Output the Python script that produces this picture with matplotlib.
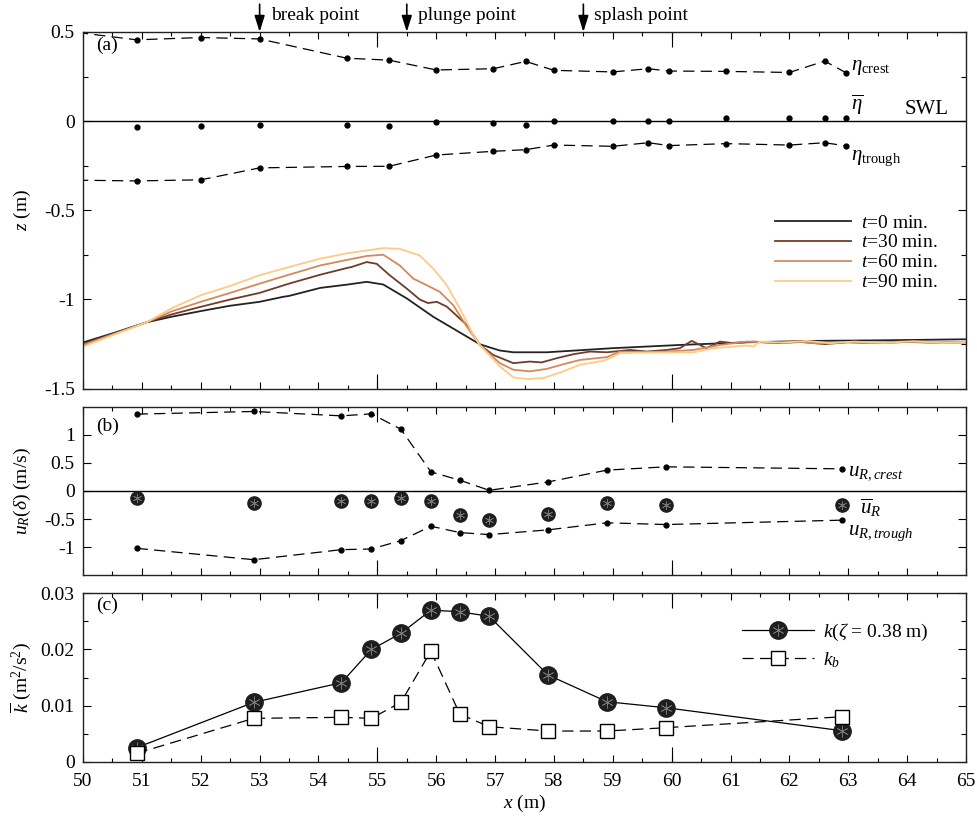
import matplotlib
matplotlib.use("Agg")
import matplotlib.pyplot as plt
from matplotlib.ticker import MultipleLocator, FormatStrFormatter, FuncFormatter
from matplotlib.legend_handler import HandlerTuple

plt.rcParams['font.family'] = ['Liberation Serif', 'DejaVu Serif']
plt.rcParams['mathtext.fontset'] = 'custom'
plt.rcParams['mathtext.rm'] = 'Liberation Serif'
plt.rcParams['mathtext.it'] = 'Liberation Serif:italic'
plt.rcParams['mathtext.bf'] = 'Liberation Serif:bold'
plt.rcParams['axes.unicode_minus'] = False
plt.rcParams['font.size'] = 14

# ---------------- (a) free-surface statistics ----------------
x_eta = [49.6, 50.91, 52.0, 53.0, 54.48, 55.2, 56.0, 56.97, 57.52, 58.0,
         59.0, 59.6, 59.96, 60.93, 62.0, 62.6, 62.97]
eta_crest = [0.51, 0.456, 0.469, 0.461, 0.353, 0.342, 0.287, 0.294, 0.335, 0.285,
             0.276, 0.294, 0.281, 0.279, 0.273, 0.337, 0.270]
eta_trough = [-0.33, -0.335, -0.329, -0.262, -0.254, -0.253, -0.190, -0.169, -0.160, -0.134,
              -0.141, -0.121, -0.137, -0.126, -0.134, -0.121, -0.139]
x_mean = [50.91, 52.0, 53.0, 54.48, 55.2, 56.0, 56.97, 57.52, 58.0,
          59.0, 59.6, 59.96, 60.93, 62.0, 62.6, 62.97]
eta_mean = [-0.030, -0.026, -0.020, -0.020, -0.026, -0.007, -0.011, -0.024, 0.002,
            0.002, 0.002, 0.002, 0.015, 0.019, 0.019, 0.019]

# bed profiles
x_t0 = [50.0, 50.5, 51.08, 51.5, 52.0, 52.5, 53.0, 53.4, 53.5, 54.03, 54.5, 54.82, 55.1,
        55.5, 55.95, 56.52, 56.74, 57.08, 57.31, 57.88, 59.0, 60.14, 61.27, 62.41, 63.54, 65.0]
z_t0 = [-1.241, -1.19, -1.128, -1.097, -1.065, -1.035, -1.013, -0.985, -0.98, -0.935, -0.916,
        -0.901, -0.916, -0.994, -1.097, -1.208, -1.251, -1.286, -1.296, -1.296, -1.273, -1.255,
        -1.240, -1.232, -1.229, -1.223]

x_t30 = [50.0, 51.08, 51.5, 52.0, 52.5, 53.0, 53.5, 54.03, 54.5, 54.56, 54.82, 54.99, 55.21,
         55.5, 55.72, 55.86, 56.01, 56.18, 56.52, 56.74, 56.97, 57.31, 57.59, 57.79, 58.05,
         58.33, 58.61, 58.9, 59.29, 59.58, 59.92, 60.14, 60.34, 60.59, 60.82, 61.05, 61.39,
         61.8, 62.2, 62.6, 63.0, 63.5, 64.0, 64.5, 65.0]
z_t30 = [-1.25, -1.128, -1.084, -1.041, -1.0, -0.963, -0.911, -0.861, -0.822, -0.818, -0.790,
         -0.800, -0.864, -0.939, -1.000, -1.020, -1.013, -1.040, -1.143, -1.255, -1.311, -1.357,
         -1.348, -1.353, -1.329, -1.307, -1.292, -1.296, -1.283, -1.292, -1.283, -1.273, -1.232,
         -1.273, -1.236, -1.245, -1.236, -1.245, -1.238, -1.250, -1.240, -1.245, -1.238, -1.242,
         -1.240]

x_t60 = [50.0, 51.08, 51.5, 52.0, 52.5, 53.0, 53.5, 54.03, 54.5, 54.82, 55.1, 55.38, 55.61,
         55.84, 56.06, 56.29, 56.52, 56.74, 57.08, 57.31, 57.59, 57.88, 58.16, 58.44, 58.9,
         59.12, 59.58, 59.92, 60.37, 60.82, 61.27, 61.7, 62.1, 62.5, 62.9, 63.4, 63.9, 64.4,
         65.0]
z_t60 = [-1.255, -1.128, -1.067, -1.013, -0.963, -0.911, -0.861, -0.809, -0.777, -0.756,
         -0.749, -0.809, -0.883, -0.920, -0.957, -1.032, -1.152, -1.255, -1.357, -1.394, -1.403,
         -1.389, -1.363, -1.339, -1.323, -1.292, -1.296, -1.292, -1.283, -1.255, -1.236, -1.243,
         -1.235, -1.247, -1.238, -1.244, -1.236, -1.242, -1.240]

x_t90 = [50.0, 51.08, 51.5, 52.0, 52.5, 53.0, 53.5, 54.03, 54.5, 54.82, 55.1, 55.38, 55.72,
         55.95, 56.18, 56.4, 56.63, 56.74, 57.08, 57.31, 57.54, 57.82, 58.16, 58.44, 58.84,
         59.01, 59.12, 59.58, 59.92, 60.37, 60.71, 61.27, 61.39, 61.5, 61.9, 62.3, 62.7, 63.1,
         63.6, 64.1, 64.6, 65.0]
z_t90 = [-1.264, -1.128, -1.050, -0.976, -0.924, -0.864, -0.818, -0.771, -0.740, -0.725,
         -0.712, -0.716, -0.753, -0.827, -0.920, -1.050, -1.199, -1.255, -1.375, -1.437, -1.446,
         -1.441, -1.403, -1.366, -1.344, -1.320, -1.301, -1.297, -1.297, -1.296, -1.273, -1.258,
         -1.264, -1.236, -1.242, -1.232, -1.245, -1.236, -1.244, -1.234, -1.243, -1.238]

profile_labels = ['0', '30', '60', '90']
profile_colors = ['#222222', '#6e3d2a', '#d4895c', '#fdcb86']

# ---------------- (b) near-bed velocity ----------------
x_vel = [50.91, 52.90, 54.39, 54.90, 55.40, 55.91, 56.40, 56.90, 57.90, 58.90, 59.90, 62.90]
u_crest = [1.368, 1.415, 1.337, 1.373, 1.099, 0.340, 0.192, 0.012, 0.161, 0.371, 0.430, 0.394]
u_mean = [-0.125, -0.209, -0.179, -0.179, -0.119, -0.179, -0.423, -0.525, -0.405, -0.209,
          -0.244, -0.244]
u_trough = [-1.020, -1.223, -1.044, -1.032, -0.883, -0.627, -0.740, -0.776, -0.692, -0.566,
            -0.597, -0.519]

# ---------------- (c) turbulent kinetic energy ----------------
k_zeta = [0.0025, 0.01058, 0.01408, 0.0200, 0.02287, 0.0270, 0.02672, 0.02590, 0.01545,
          0.01069, 0.00962, 0.00552]
k_bed = [0.0015, 0.00773, 0.00791, 0.00773, 0.01058, 0.01972, 0.0085, 0.00624, 0.00547,
         0.00547, 0.00606, 0.00802]

fig = plt.figure(figsize=(9.77, 8.16), dpi=100)
L, W = 0.0850, 0.9037
axa = fig.add_axes([L, 0.5237, W, 0.4371])
axb = fig.add_axes([L, 0.2950, W, 0.2066])
axc = fig.add_axes([L, 0.0665, W, 0.2064])

dash = (9, 5)
fmt = FuncFormatter(lambda v, p: ('%g' % round(v, 4)))
asterisk = (6, 2, 0)


def style_axis(ax, show_xlabels=False):
    ax.set_xlim(50, 65)
    ax.xaxis.set_major_locator(MultipleLocator(1))
    ax.xaxis.set_minor_locator(MultipleLocator(0.5))
    ax.tick_params(axis='x', which='major', direction='in', length=5, width=0.8,
                   top=True, bottom=True, labelbottom=show_xlabels, pad=8)
    ax.tick_params(axis='x', which='minor', direction='in', length=2.6, width=0.8,
                   top=True, bottom=True)
    ax.tick_params(axis='y', which='major', direction='in', length=6, width=0.8,
                   left=True, right=True, pad=6)
    ax.tick_params(axis='y', which='minor', direction='in', length=3.5, width=0.8,
                   left=True, right=True)
    ax.yaxis.set_major_formatter(fmt)
    for s in ax.spines.values():
        s.set_linewidth(1.0)
        s.set_color('#222222')
    # longer ticks every 5 m
    for side in ('bottom', 'top'):
        sec = ax.secondary_xaxis(side)
        sec.set_xticks([55, 60])
        sec.tick_params(direction='in', length=11, width=0.8,
                        labelbottom=False, labeltop=False)
        sec.spines[side].set_visible(False)
    ax.xaxis.set_major_formatter(FormatStrFormatter('%d'))


# ---- panel (a)
axa.axhline(0, color='k', lw=1.0)
axa.plot(x_eta, eta_crest, color='k', lw=0.9, ls='--', dashes=dash,
         marker='o', ms=3.5, clip_on=True)
axa.plot(x_eta, eta_trough, color='k', lw=0.9, ls='--', dashes=dash,
         marker='o', ms=3.5, clip_on=True)
axa.plot(x_mean, eta_mean, ls='none', color='k', marker='o', ms=3.5)
profiles = [(x_t0, z_t0), (x_t30, z_t30), (x_t60, z_t60), (x_t90, z_t90)]
handles = []
for (xp, zp), lab, c in zip(profiles, profile_labels, profile_colors):
    h, = axa.plot(xp, zp, color=c, lw=1.3, label=r'$t$=%s min.' % lab)
    handles.append(h)
axa.set_ylim(-1.5, 0.5)
axa.yaxis.set_major_locator(MultipleLocator(0.5))
axa.yaxis.set_minor_locator(MultipleLocator(0.25))
style_axis(axa)
axa.set_ylabel(r'$z$ (m)')
axa.legend(handles=handles, loc='upper left', bbox_to_anchor=(0.784, 0.49),
           frameon=False, borderpad=0, borderaxespad=0, handlelength=3.9,
           handletextpad=0.5, labelspacing=0.12, fontsize=14)
axa.text(0.0147, 0.963, '(a)', transform=axa.transAxes, va='center', ha='left')
axa.text(63.05, 0.30, r'$\eta_{\rm crest}$', ha='left', va='center', fontsize=15)
axa.text(63.05, 0.09, r'$\overline{\eta}$', ha='left', va='center', fontsize=15)
axa.text(63.05, -0.21, r'$\eta_{\rm trough}$', ha='left', va='center', fontsize=15)
axa.text(64.7, 0.012, 'SWL', ha='right', va='bottom', fontsize=15)

for xa, name in [(53.0, 'break point'), (55.5, 'plunge point'), (58.5, 'splash point')]:
    axa.annotate('', xy=(xa, 1.0), xycoords=('data', 'axes fraction'),
                 xytext=(0, 20), textcoords='offset points',
                 arrowprops=dict(arrowstyle='-|>,head_length=0.7,head_width=0.22',
                                 color='k', lw=1.2, shrinkA=0, shrinkB=0))
    axa.annotate(name, xy=(xa, 1.0), xycoords=('data', 'axes fraction'),
                 xytext=(8, 12), textcoords='offset points', ha='left', va='center',
                 annotation_clip=False)

# ---- panel (b)
axb.axhline(0, color='k', lw=1.0)
axb.plot(x_vel, u_crest, color='k', lw=0.9, ls='--', dashes=dash, marker='o', ms=3.5)
axb.plot(x_vel, u_trough, color='k', lw=0.9, ls='--', dashes=dash, marker='o', ms=3.5)
axb.plot(x_vel, u_mean, ls='none', marker='o', ms=9.5, mfc='#1e1e1e', mec='#1e1e1e')
axb.plot(x_vel, u_mean, ls='none', marker=asterisk, ms=6.5, color='#777777', mew=0.5)
axb.set_ylim(-1.5, 1.5)
axb.set_yticks([-1, -0.5, 0, 0.5, 1])
style_axis(axb)
axb.set_ylabel(r'$u_R(\delta)$ (m/s)')
axb.text(0.0147, 0.8855, '(b)', transform=axb.transAxes, va='center', ha='left')
axb.text(63.0, 0.33, r'$u_{R,crest}$', ha='left', va='center', fontsize=15)
axb.text(63.2, -0.31, r'$\overline{u}_R$', ha='left', va='center', fontsize=15)
axb.text(63.0, -0.76, r'$u_{R,trough}$', ha='left', va='center', fontsize=15)

# ---- panel (c)
lk, = axc.plot(x_vel, k_zeta, color='k', lw=0.9, marker='o', ms=12.5,
               mfc='#1e1e1e', mec='#1e1e1e')
sk, = axc.plot(x_vel, k_zeta, ls='none', marker=asterisk, ms=8.5, color='#777777',
               mew=0.5)
lb, = axc.plot(x_vel, k_bed, color='k', lw=0.9, ls='--', dashes=dash, marker='s',
               ms=9.5, mfc='white', mec='k', mew=1.0)
axc.set_ylim(0, 0.03)
axc.yaxis.set_major_locator(MultipleLocator(0.01))
axc.yaxis.set_minor_locator(MultipleLocator(0.005))
style_axis(axc, show_xlabels=True)
axc.set_ylabel(r'$\overline{k}$ (m$^2$/s$^2$)')
axc.set_xlabel(r'$x$ (m)', labelpad=2)
axc.text(0.0147, 0.9305, '(c)', transform=axc.transAxes, va='center', ha='left')
axc.legend(handles=[(lk, sk), lb], labels=[r'$k$($\zeta$ = 0.38 m)', r'$k_b$'],
           handler_map={tuple: HandlerTuple(ndivide=1, pad=0)},
           loc='upper left', bbox_to_anchor=(0.746, 0.83), frameon=False,
           borderpad=0, borderaxespad=0, handlelength=3.7, handletextpad=0.5,
           labelspacing=0.35, fontsize=14)

for ax in (axa, axb, axc):
    ax.yaxis.set_label_coords(-0.057, 0.5)

fig.savefig('out.png', dpi=100)
